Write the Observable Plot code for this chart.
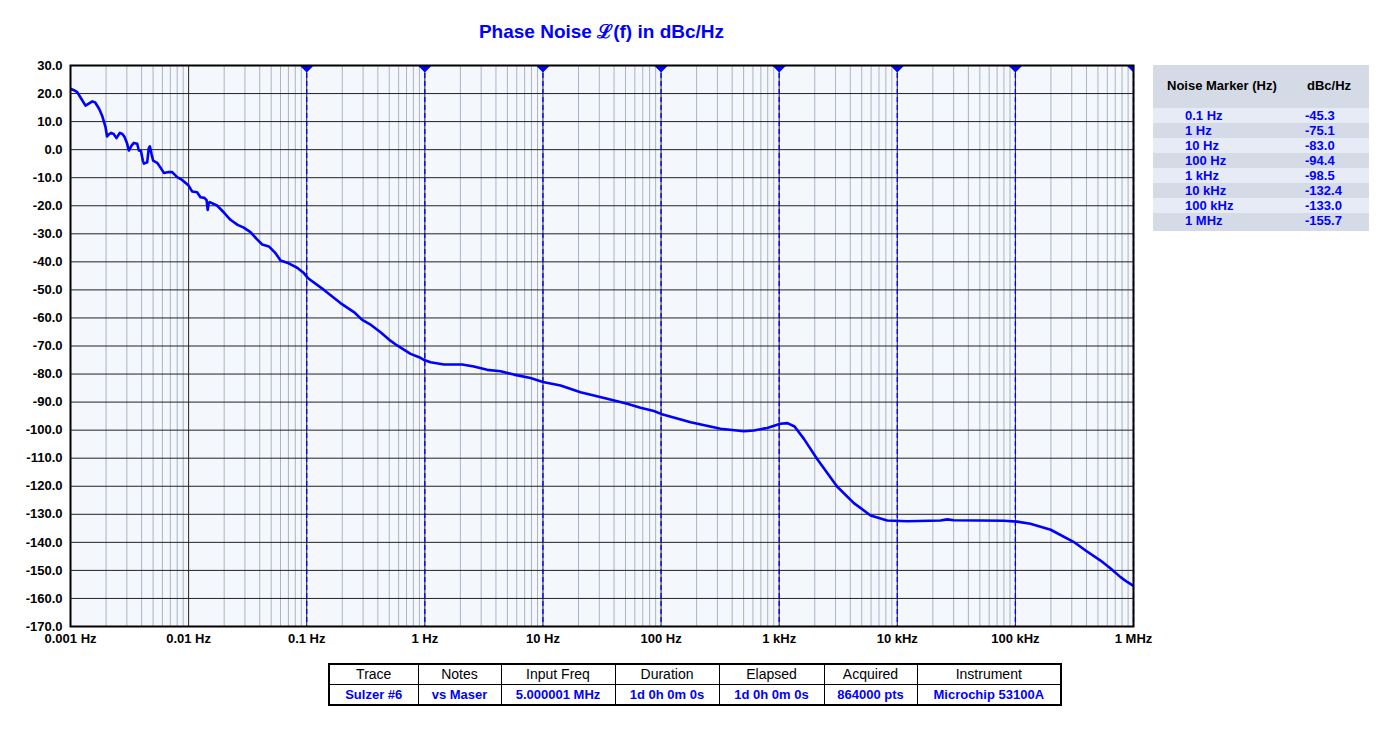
<!DOCTYPE html>
<html>
<head>
<meta charset="utf-8">
<script src="https://cdn.jsdelivr.net/npm/d3@7"></script>
<script src="https://cdn.jsdelivr.net/npm/@observablehq/plot@0.6"></script>
<style>
  html, body { margin: 0; padding: 0; background: #fff; }
  body { width: 1389px; height: 743px; position: relative; overflow: hidden; font-family: "Liberation Sans", Arial, sans-serif; }
  #chart { position: absolute; left: 0; top: 0; }
  #title { position: absolute; left: 70px; width: 1063px; top: 18px; text-align: center; font: bold 19px "Liberation Sans", Arial, sans-serif; color: #0000ff; }
  #markers { position: absolute; left: 1153px; top: 65px; width: 216px; height: 166px; background: #d5dbe6; }
  #markers .hdr { position: absolute; top: 13px; font: bold 13px "Liberation Sans", Arial, sans-serif; color: #000; }
  #markers .row { position: absolute; left: 0; width: 216px; height: 15px; }
  #markers .row.light { background: #e6ebf5; }
  #markers .row span { position: absolute; top: 0px; font: bold 13px "Liberation Sans", Arial, sans-serif; color: #0000ff; }
  #info { position: absolute; left: 328px; top: 663px; table-layout: fixed; border-collapse: collapse; border: 2px solid #000; font: 14px "Liberation Sans Narrow", "Arial Narrow", "Liberation Sans", sans-serif; }
  #info td { border: 1px solid #000; text-align: center; padding: 0; height: 19px; line-height: 19px; white-space: nowrap; overflow: hidden; }
  #info tr.h td { color: #000; }
  #info tr.d td { color: #0000ff; font-weight: bold; font-size: 13px; }
</style>
</head>
<body>
<div id="title"></div>
<div id="chart"></div>
<div id="markers"></div>
<table id="info"></table>
<script>
// ---- data ----
const traceFreq = [
  0.001, 0.00107, 0.00114, 0.00122, 0.00134, 0.00145, 0.00153, 0.00162, 0.00175, 0.00185,
  0.00198, 0.00204, 0.00212, 0.00221, 0.00232, 0.00245, 0.00262, 0.00275, 0.00287, 0.00300,
  0.00312, 0.00330, 0.00344, 0.00367, 0.00379, 0.00395, 0.00410, 0.00418, 0.00446, 0.00460,
  0.00470, 0.00485, 0.00501, 0.00542, 0.00580, 0.00617, 0.00680, 0.00726, 0.00800, 0.00881,
  0.0100, 0.0107, 0.0118, 0.0126, 0.0136, 0.0142, 0.0145, 0.0148, 0.0151, 0.0174,
  0.0200, 0.0226, 0.0260, 0.0293, 0.0334, 0.0380, 0.0420, 0.0478, 0.0544, 0.0600,
  0.0684, 0.0830, 0.0945, 0.100, 0.104, 0.140, 0.193, 0.251, 0.295, 0.350,
  0.422, 0.500, 0.583, 0.757, 0.918, 1.0, 1.117, 1.45, 2.07, 2.6,
  3.37, 4.38, 5.68, 7.85, 10, 14.1, 20.8, 35, 51.7, 67,
  86.9, 100, 178, 319, 502, 611, 792, 1024, 1174, 1350,
  1620, 2090, 3090, 4290, 5940, 8220, 10700, 12140, 23250, 26500,
  30000, 50000, 80000, 103000, 134000, 199000, 313000, 393000, 526000, 640000,
  777000, 891000, 1000000
];
const traceDbc = [
  21.7, 21.2, 20.5, 18.5, 15.7, 16.6, 17.2, 16.8, 14.5, 12.2,
  8.0, 4.7, 5.5, 6.0, 5.6, 4.1, 6.0, 5.6, 4.5, 2.5,
  -0.3, 1.5, 2.4, 2.1, -0.3, -0.5, -4.0, -5.0, -4.5, 0.5,
  1.2, -1.5, -3.9, -4.7, -6.5, -8.3, -8.0, -8.0, -9.8, -10.8,
  -12.8, -14.9, -15.2, -17.0, -17.2, -18.0, -21.5, -19.0, -18.7, -19.9,
  -22.5, -25.0, -26.8, -27.8, -29.4, -32.0, -33.8, -34.5, -36.9, -39.5,
  -40.3, -42.1, -44.0, -45.3, -46.0, -50.0, -54.7, -57.9, -60.7, -62.5,
  -65.1, -67.8, -69.8, -72.8, -74.2, -75.1, -75.8, -76.6, -76.6, -77.3,
  -78.5, -79.0, -80.2, -81.4, -82.8, -84.1, -86.5, -88.8, -90.6, -92.0,
  -93.2, -94.2, -97.2, -99.5, -100.4, -100.1, -99.2, -97.7, -97.5, -98.7,
  -103.1, -110.2, -120.1, -126.0, -130.4, -132.2, -132.4, -132.5, -132.2, -131.8,
  -132.1, -132.2, -132.3, -132.6, -133.4, -135.5, -139.9, -142.9, -146.5, -149.3,
  -152.4, -154.2, -155.5
];
const decadeTicks = [0.001, 0.01, 0.1, 1, 10, 100, 1000, 10000, 100000, 1000000];
const decadeLabels = ["0.001 Hz", "0.01 Hz", "0.1 Hz", "1 Hz", "10 Hz", "100 Hz", "1 kHz", "10 kHz", "100 kHz", "1 MHz"];
const yTicks = d3.range(-170, 31, 10);
const markerFreqs = [0.1, 1, 10, 100, 1000, 10000, 100000, 1000000];
const markerLabels = ["0.1 Hz", "1 Hz", "10 Hz", "100 Hz", "1 kHz", "10 kHz", "100 kHz", "1 MHz"];
const markerValues = ["-45.3", "-75.1", "-83.0", "-94.4", "-98.5", "-132.4", "-133.0", "-155.7"];
const infoHeaders = ["Trace", "Notes", "Input Freq", "Duration", "Elapsed", "Acquired", "Instrument"];
const infoValues = ["Sulzer #6", "vs Maser", "5.000001 MHz", "1d 0h 0m 0s", "1d 0h 0m 0s", "864000 pts", "Microchip 53100A"];
const titleText = "Phase Noise \u2112(f) in dBc/Hz";

// ---- derived ----
const trace = traceFreq.map((f, i) => ({f, db: traceDbc[i]}));
const minorTicks = [];
for (const d of decadeTicks.slice(0, -1)) for (let k = 2; k <= 9; k++) minorTicks.push(d * k);
const labelOf = new Map(decadeTicks.map((d, i) => [d, decadeLabels[i]]));

const flatTriangle = {
  draw(ctx) { ctx.moveTo(-7, 0); ctx.lineTo(7, 0); ctx.lineTo(0, 7); ctx.closePath(); }
};

const chart = Plot.plot({
  width: 1389,
  height: 660,
  marginLeft: 70,
  marginRight: 256,
  marginTop: 65,
  marginBottom: 34,
  style: {fontFamily: "'Liberation Sans', Arial, sans-serif", fontSize: "13px", fontWeight: "bold", color: "#000", background: "transparent", overflow: "visible"},
  x: {type: "log", domain: [0.001, 1000000], ticks: decadeTicks, tickFormat: d => labelOf.get(d) ?? "", tickSize: 0, tickPadding: 7, label: null},
  y: {domain: [-170, 30], ticks: yTicks, tickFormat: d => d.toFixed(1), tickSize: 0, tickPadding: 8, label: null},
  marks: [
    Plot.frame({fill: "#f4f7fc", stroke: null}),
    Plot.ruleX(minorTicks, {stroke: "#aab4c4", strokeWidth: 1}),
    Plot.ruleX(decadeTicks, {stroke: "#222", strokeWidth: 1}),
    Plot.ruleY(yTicks, {stroke: "#222", strokeWidth: 1}),
    Plot.ruleX(markerFreqs, {stroke: "#0000ff", strokeWidth: 1.3, strokeDasharray: "5,3"}),
    Plot.line(trace, {x: "f", y: "db", stroke: "#0000ff", strokeWidth: 2.6, clip: true}),
    Plot.dot(markerFreqs, {x: d => d, y: 30, symbol: flatTriangle, fill: "#0000ff", stroke: null, clip: true}),
    Plot.frame({stroke: "#000", strokeWidth: 2})
  ]
});
document.getElementById("chart").appendChild(chart);
document.getElementById("title").textContent = titleText;

// marker table
const mk = document.getElementById("markers");
const h1 = document.createElement("div"); h1.className = "hdr"; h1.style.left = "14px"; h1.textContent = "Noise Marker (Hz)"; mk.appendChild(h1);
const h2 = document.createElement("div"); h2.className = "hdr"; h2.style.left = "154px"; h2.textContent = "dBc/Hz"; mk.appendChild(h2);
markerLabels.forEach((lab, i) => {
  const r = document.createElement("div");
  r.className = "row" + (i % 2 === 0 ? " light" : "");
  r.style.top = (43 + i * 15) + "px";
  const a = document.createElement("span"); a.style.left = "32px"; a.textContent = lab;
  const b = document.createElement("span"); b.style.left = "152px"; b.textContent = markerValues[i];
  r.appendChild(a); r.appendChild(b); mk.appendChild(r);
});

// info table
const colW = [89, 83, 114, 104, 105, 93, 144];
const tbl = document.getElementById("info");
const cg = document.createElement("colgroup");
colW.forEach(w => { const c = document.createElement("col"); c.style.width = w + "px"; cg.appendChild(c); });
tbl.appendChild(cg);
tbl.style.width = (colW.reduce((a, b) => a + b, 0) + 1) + "px";
const trH = document.createElement("tr"); trH.className = "h";
const trD = document.createElement("tr"); trD.className = "d";
infoHeaders.forEach((t, i) => {
  const c = document.createElement("td"); c.textContent = t; trH.appendChild(c);
  const d = document.createElement("td"); d.textContent = infoValues[i]; trD.appendChild(d);
});
tbl.appendChild(trH); tbl.appendChild(trD);
</script>
</body>
</html>
